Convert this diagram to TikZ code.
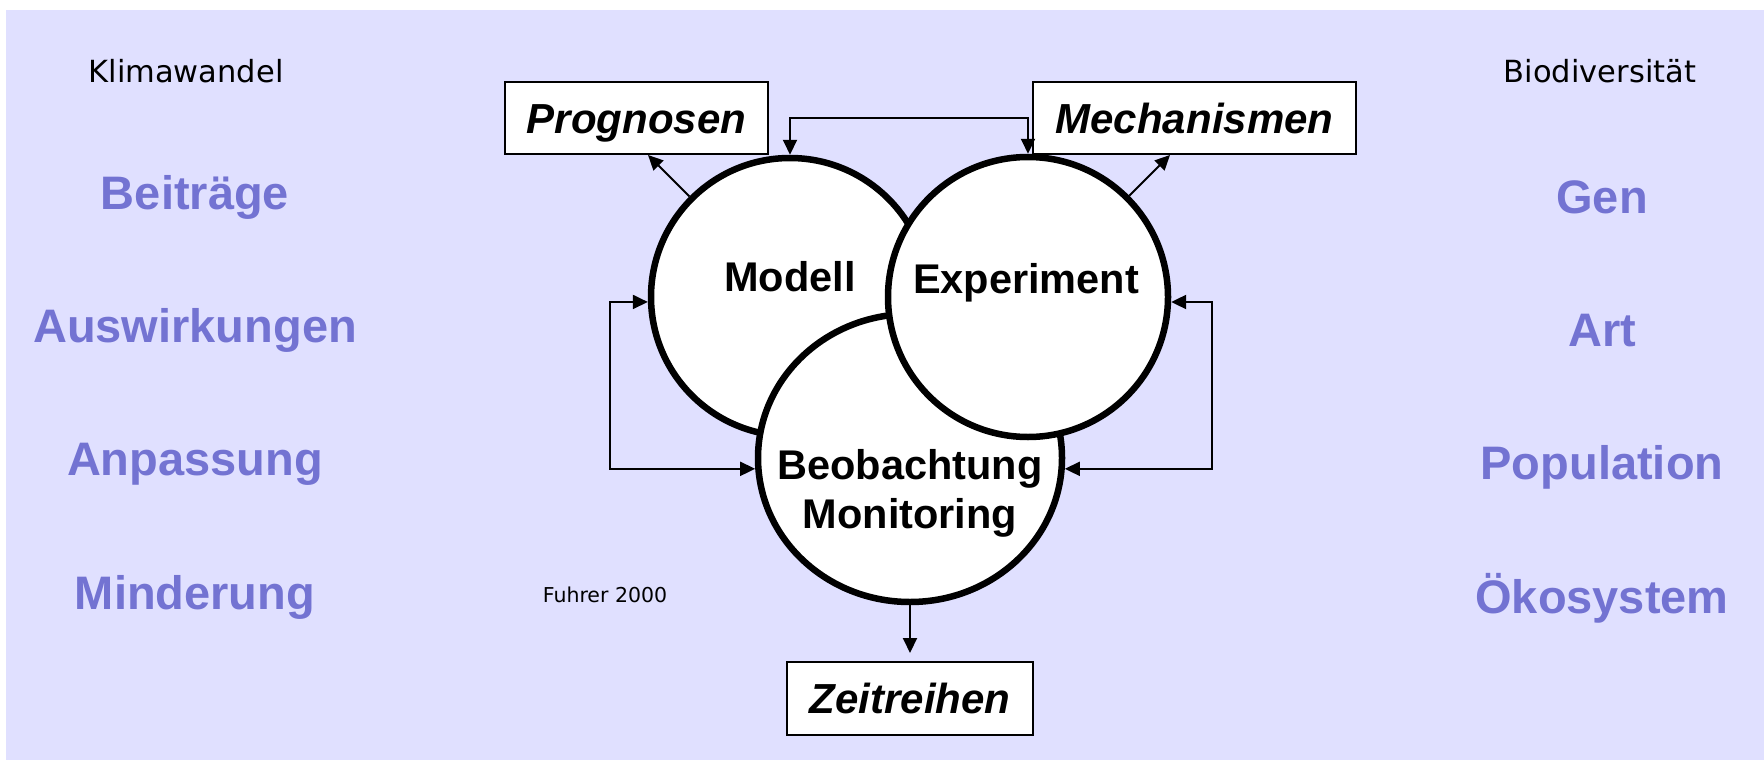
\documentclass[tikz,border=0pt]{standalone}
\usepackage{fontspec}
\setmainfont{Liberation Sans}
\newfontfamily\headfont{DejaVu Sans}
\usetikzlibrary{arrows.meta,shapes.geometric}
\definecolor{bgcol}{RGB}{224,224,255}
\definecolor{labcol}{RGB}{115,115,210}
\begin{document}
\begin{tikzpicture}[x=1pt,y=-1pt,
  bubble/.style={draw, line width=6.5pt, fill=white, inner sep=0pt},
  bubblelabel/.style={anchor=base, inner sep=0pt, font=\fontsize{41.5}{46}\selectfont\bfseries},
  boxnode/.style={draw, line width=2pt, fill=white, inner sep=0pt, minimum height=72pt,
     text height=30pt, text depth=0pt, font=\fontsize{42}{48}\selectfont\bfseries\itshape},
  headtext/.style={anchor=base, inner sep=0pt, font=\headfont\fontsize{30.5}{36}\selectfont},
  bluetext/.style={anchor=base, inner sep=0pt, text=labcol, font=\fontsize{47}{56}\selectfont\bfseries},
  notetext/.style={anchor=base, inner sep=0pt, font=\headfont\fontsize{20.5}{24}\selectfont},
  conn/.style={line width=2pt, -{Triangle[length=15pt,width=14pt]}},
  conntwo/.style={line width=2pt, {Triangle[length=15pt,width=14pt]}-{Triangle[length=15pt,width=14pt]}}
]
\useasboundingbox (0,0) rectangle (1764,760);
\fill[bgcol] (6,10) rectangle (1764,760);

% side texts
\node[headtext] (klima) at (186,82) {Klimawandel};
\node[headtext] (bio) at (1600,82) {Biodiversität};
\node[bluetext] (l1) at (195,209) {Beiträge};
\node[bluetext] (l2) at (195,342) {Auswirkungen};
\node[bluetext] (l3) at (195,475) {Anpassung};
\node[bluetext] (l4) at (195,609) {Minderung};
\node[bluetext] (r1) at (1602,213) {Gen};
\node[bluetext] (r2) at (1602,346) {Art};
\node[bluetext] (r3) at (1602,479) {Population};
\node[bluetext] (r4) at (1602,613) {Ökosystem};
\node[notetext] (src) at (605,602) {Fuhrer 2000};

% boxes
\node[boxnode, minimum width=263pt] (pg) at (636.5,118) {Prognosen};
\node[boxnode, minimum width=323pt] (me) at (1194.5,118) {Mechanismen};
\node[boxnode, minimum width=246pt, minimum height=73pt] (zr) at (910,698.5) {Zeitreihen};

% circles
\node[bubble, circle, minimum size=278pt] (m) at (790,297) {};
\node[bubble, ellipse, minimum width=304pt, minimum height=288pt] (b) at (910,458) {};
\node[bubble, circle, minimum size=280pt] (e) at (1028,297) {};

\node[bubblelabel] (mt) at (790,291) {Modell};
\node[bubblelabel] (et) at (1026,293) {Experiment};
\node[bubblelabel] (bt1) at (910,479) {Beobachtung};
\node[bubblelabel] (bt2) at (910,528) {Monitoring};

% connectors
\coordinate (pgin) at (648,155);
\coordinate (mein) at (1170,155);
\draw[conntwo] (m.north) -- (m.north |- pg.east) -| (e.north);
\draw[conn] (m.135) -- (pgin);
\draw[conn] (e.45) -- (mein);
\draw[conntwo] (m.182) -- ++(-38,0) |- (b.184);
\draw[conntwo] (e.-2) -- ++(41,0) |- (b.-4);
\draw[conn, shorten >=8pt] (b.south) -- (zr.north);
\end{tikzpicture}
\end{document}
